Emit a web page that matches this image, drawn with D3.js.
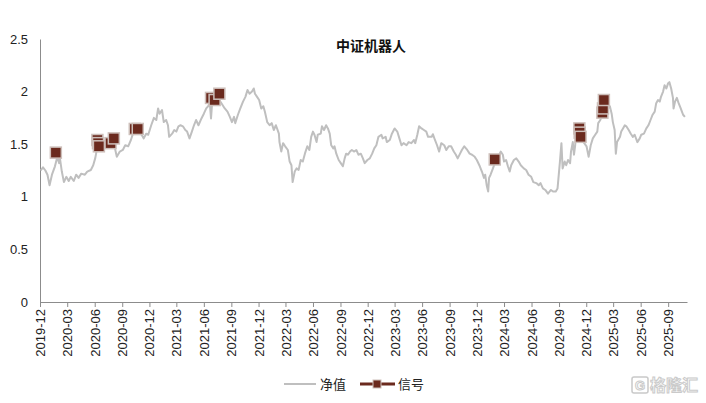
<!DOCTYPE html>
<html><head><meta charset="utf-8">
<script src="https://cdn.jsdelivr.net/npm/d3@7"></script>
<style>body{margin:0;background:#fff}svg{display:block}</style>
</head><body><svg id="c" width="706" height="403"></svg>
<script>
const chartTitle = "中证机器人";
const seriesNames = ["净值", "信号"];
const yTicks = [0, 0.5, 1, 1.5, 2, 2.5];
const xTickLabels = ["2019-12","2020-03","2020-06","2020-09","2020-12","2021-03","2021-06","2021-09","2021-12","2022-03","2022-06","2022-09","2022-12","2023-03","2023-06","2023-09","2023-12","2024-03","2024-06","2024-09","2024-12","2025-03","2025-06","2025-09"];

const navDates = ["2019-12-03","2019-12-11","2019-12-19","2019-12-26","2020-01-02","2020-01-10","2020-01-20","2020-01-28","2020-02-03","2020-02-05","2020-02-12","2020-02-19","2020-02-27","2020-03-06","2020-03-13","2020-03-23","2020-03-31","2020-04-08","2020-04-17","2020-04-29","2020-05-07","2020-05-19","2020-05-27","2020-06-03","2020-06-10","2020-06-18","2020-06-26","2020-07-06","2020-07-16","2020-07-24","2020-08-03","2020-08-14","2020-08-24","2020-09-03","2020-09-11","2020-09-21","2020-09-30","2020-10-07","2020-10-14","2020-10-23","2020-11-03","2020-11-12","2020-11-20","2020-11-27","2020-12-07","2020-12-16","2020-12-24","2020-12-30","2021-01-04","2021-01-12","2021-01-18","2021-01-26","2021-02-01","2021-02-05","2021-02-15","2021-02-22","2021-03-01","2021-03-08","2021-03-15","2021-03-23","2021-03-31","2021-04-06","2021-04-14","2021-04-22","2021-04-29","2021-05-06","2021-05-14","2021-05-24","2021-06-01","2021-06-09","2021-06-15","2021-06-21","2021-06-25","2021-06-29","2021-07-07","2021-07-16","2021-07-23","2021-08-02","2021-08-10","2021-08-19","2021-08-27","2021-09-03","2021-09-10","2021-09-14","2021-09-23","2021-10-01","2021-10-10","2021-10-18","2021-10-25","2021-11-01","2021-11-09","2021-11-15","2021-11-19","2021-11-26","2021-12-03","2021-12-10","2021-12-17","2021-12-22","2021-12-30","2022-01-07","2022-01-14","2022-01-21","2022-01-28","2022-02-07","2022-02-09","2022-02-15","2022-02-21","2022-02-28","2022-03-09","2022-03-15","2022-03-21","2022-03-25","2022-04-01","2022-04-07","2022-04-14","2022-04-21","2022-04-28","2022-05-05","2022-05-13","2022-05-20","2022-05-26","2022-06-01","2022-06-06","2022-06-13","2022-06-17","2022-06-27","2022-07-01","2022-07-08","2022-07-15","2022-07-21","2022-07-27","2022-08-01","2022-08-08","2022-08-12","2022-08-18","2022-08-26","2022-09-02","2022-09-09","2022-09-15","2022-09-20","2022-09-26","2022-10-03","2022-10-09","2022-10-17","2022-10-24","2022-10-31","2022-11-08","2022-11-15","2022-11-21","2022-11-30","2022-12-08","2022-12-16","2022-12-23","2022-12-30","2023-01-06","2023-01-16","2023-01-20","2023-01-30","2023-02-03","2023-02-13","2023-02-20","2023-03-01","2023-03-10","2023-03-17","2023-03-24","2023-03-31","2023-04-10","2023-04-17","2023-04-26","2023-05-05","2023-05-09","2023-05-16","2023-05-22","2023-05-30","2023-06-07","2023-06-15","2023-06-21","2023-07-03","2023-07-07","2023-07-14","2023-07-21","2023-07-28","2023-08-04","2023-08-14","2023-08-21","2023-08-29","2023-09-06","2023-09-15","2023-09-22","2023-09-28","2023-10-06","2023-10-12","2023-10-20","2023-10-30","2023-11-07","2023-11-15","2023-11-24","2023-12-01","2023-12-11","2023-12-18","2023-12-25","2023-12-29","2024-01-03","2024-01-08","2024-01-11","2024-01-16","2024-01-24","2024-01-30","2024-02-08","2024-02-19","2024-02-26","2024-03-01","2024-03-08","2024-03-14","2024-03-20","2024-03-25","2024-04-03","2024-04-11","2024-04-19","2024-04-26","2024-05-06","2024-05-14","2024-05-22","2024-05-31","2024-06-07","2024-06-17","2024-06-25","2024-07-01","2024-07-09","2024-07-17","2024-07-26","2024-08-05","2024-08-12","2024-08-21","2024-08-27","2024-09-04","2024-09-09","2024-09-13","2024-09-20","2024-09-25","2024-10-01","2024-10-08","2024-10-11","2024-10-17","2024-10-21","2024-10-25","2024-10-28","2024-11-05","2024-11-14","2024-11-22","2024-12-02","2024-12-09","2024-12-16","2024-12-23","2024-12-31","2025-01-07","2025-01-10","2025-01-17","2025-01-27","2025-02-03","2025-02-06","2025-02-12","2025-02-18","2025-02-24","2025-02-28","2025-03-06","2025-03-10","2025-03-14","2025-03-24","2025-03-28","2025-04-03","2025-04-09","2025-04-14","2025-04-22","2025-04-29","2025-05-06","2025-05-12","2025-05-21","2025-05-29","2025-06-03","2025-06-12","2025-06-20","2025-06-27","2025-07-04","2025-07-11","2025-07-18","2025-07-23","2025-07-29","2025-08-04","2025-08-08","2025-08-15","2025-08-20","2025-08-26","2025-09-01","2025-09-05","2025-09-11","2025-09-17","2025-09-19","2025-09-24","2025-09-30","2025-10-06","2025-10-13","2025-10-17","2025-10-21","2025-10-27"];

const navValues = [1.25,1.28,1.25,1.21,1.11,1.21,1.29,1.38,1.32,1.38,1.24,1.14,1.19,1.15,1.19,1.15,1.21,1.18,1.22,1.21,1.24,1.255,1.30,1.37,1.48,1.46,1.445,1.49,1.48,1.51,1.52,1.38,1.43,1.445,1.49,1.48,1.54,1.60,1.65,1.635,1.60,1.555,1.60,1.59,1.68,1.75,1.73,1.84,1.79,1.825,1.71,1.73,1.68,1.57,1.60,1.635,1.62,1.67,1.68,1.67,1.635,1.62,1.555,1.62,1.68,1.73,1.68,1.745,1.79,1.84,1.86,1.89,1.745,1.905,1.94,1.94,1.92,1.875,1.84,1.81,1.76,1.71,1.76,1.70,1.78,1.84,1.905,1.95,2.015,1.98,2.00,2.03,1.98,1.95,1.92,1.84,1.86,1.81,1.71,1.68,1.70,1.635,1.68,1.60,1.52,1.43,1.51,1.48,1.445,1.335,1.30,1.14,1.24,1.27,1.255,1.35,1.335,1.41,1.48,1.445,1.57,1.62,1.59,1.52,1.59,1.60,1.67,1.635,1.68,1.65,1.60,1.49,1.46,1.48,1.41,1.35,1.32,1.29,1.365,1.41,1.40,1.43,1.445,1.43,1.445,1.40,1.41,1.365,1.32,1.35,1.365,1.41,1.46,1.49,1.57,1.59,1.555,1.57,1.52,1.54,1.60,1.65,1.62,1.555,1.49,1.51,1.49,1.52,1.51,1.54,1.51,1.59,1.67,1.65,1.635,1.62,1.57,1.57,1.595,1.54,1.49,1.43,1.51,1.49,1.445,1.48,1.48,1.43,1.40,1.365,1.41,1.445,1.48,1.445,1.41,1.40,1.38,1.35,1.29,1.24,1.18,1.21,1.11,1.05,1.18,1.21,1.27,1.32,1.365,1.43,1.40,1.335,1.35,1.29,1.24,1.30,1.35,1.365,1.335,1.30,1.27,1.255,1.21,1.19,1.14,1.13,1.11,1.13,1.08,1.065,1.03,1.065,1.05,1.05,1.08,1.335,1.51,1.27,1.335,1.30,1.35,1.32,1.43,1.52,1.40,1.49,1.60,1.635,1.555,1.52,1.48,1.38,1.49,1.555,1.59,1.62,1.70,1.73,1.81,1.86,1.875,1.84,1.86,1.79,1.71,1.635,1.41,1.52,1.57,1.62,1.65,1.68,1.67,1.635,1.60,1.57,1.59,1.52,1.555,1.59,1.60,1.65,1.68,1.73,1.78,1.81,1.89,1.92,1.905,1.95,2.00,2.06,2.03,2.08,2.09,2.03,1.94,1.84,1.905,1.94,1.89,1.84,1.81,1.78,1.76];

const signalDates = ["2020-01-23","2020-06-10","2020-06-12","2020-06-15","2020-07-24","2020-08-04","2020-10-13","2020-10-23","2021-06-25","2021-07-07","2021-07-23","2024-01-30","2024-11-08","2024-11-09","2024-11-12","2025-01-24","2025-01-26","2025-01-29"];
const signalValues = [1.42,1.54,1.51,1.48,1.51,1.555,1.645,1.645,1.94,1.92,1.98,1.355,1.65,1.61,1.57,1.80,1.84,1.92];

const svg = d3.select("#c");
const parse = d3.timeParse("%Y-%m-%d");
const parseM = d3.timeParse("%Y-%m");
const FONT = "'Liberation Sans', Arial, 'Noto Sans CJK SC', sans-serif";
const CJK = "'Noto Sans CJK SC', sans-serif";
const gray = "#BFBFBF", brown = "#6B2A1E", axisC = "#8C8C8C";

const x = d3.scaleTime().domain([parse("2019-12-01"), parse("2025-11-03")]).range([40, 687]);
const y = d3.scaleLinear().domain([0, 2.5]).range([302, 39]);

// y axis
const gy = svg.append("g").attr("transform", "translate(40,0)")
  .call(d3.axisLeft(y).tickValues(yTicks).tickFormat(d3.format("")).tickSize(0).tickPadding(12));
gy.select(".domain").attr("stroke", axisC);
gy.selectAll("text").attr("font-family", FONT).attr("font-size", 13).attr("fill", "#222");

// x axis
const gx = svg.append("g").attr("transform", "translate(0,302)")
  .call(d3.axisBottom(x).tickValues(xTickLabels.map(parseM)).tickFormat(d3.timeFormat("%Y-%m")).tickSizeInner(5).tickSizeOuter(0));
gx.select(".domain").attr("stroke", axisC);
gx.selectAll(".tick line").attr("stroke", axisC);
gx.selectAll("text").attr("font-family", FONT).attr("font-size", 13).attr("fill", "#222")
  .attr("transform", "rotate(-90)").attr("text-anchor", "end")
  .attr("x", -7).attr("y", 0).attr("dy", "0.35em");

// line
const navData = navDates.map((d, i) => ({ date: parse(d), value: navValues[i] }));
svg.append("path").datum(navData)
  .attr("fill", "none").attr("stroke", gray).attr("stroke-width", 2).attr("stroke-linejoin", "round")
  .attr("d", d3.line().x(d => x(d.date)).y(d => y(d.value)));

// signals
const sigData = signalDates.map((d, i) => ({ date: parse(d), value: signalValues[i] }));
const ms = 11;
svg.append("g").selectAll("rect").data(sigData).join("rect")
  .attr("x", d => x(d.date) - ms / 2).attr("y", d => y(d.value) - ms / 2)
  .attr("width", ms).attr("height", ms)
  .attr("fill", brown).attr("stroke", "#CDBFBA").attr("stroke-width", 1.5);

// title
svg.append("text").attr("x", 371).attr("y", 51).attr("text-anchor", "middle")
  .attr("font-family", CJK).attr("font-size", 14).attr("font-weight", "bold").attr("fill", "#111")
  .text(chartTitle);

// legend
const lg = svg.append("g");
lg.append("line").attr("x1", 284).attr("x2", 316).attr("y1", 384).attr("y2", 384).attr("stroke", gray).attr("stroke-width", 2);
lg.append("text").attr("x", 320).attr("y", 389).attr("font-family", CJK).attr("font-size", 13).attr("fill", "#222").text(seriesNames[0]);
lg.append("line").attr("x1", 360).attr("x2", 395).attr("y1", 384).attr("y2", 384).attr("stroke", brown).attr("stroke-width", 3);
lg.append("rect").attr("x", 373).attr("y", 380).attr("width", 8).attr("height", 8).attr("fill", brown).attr("stroke", "#CDBFBA").attr("stroke-width", 1);
lg.append("text").attr("x", 398).attr("y", 389).attr("font-family", CJK).attr("font-size", 13).attr("fill", "#222").text(seriesNames[1]);

// watermark
const wm = svg.append("g").attr("opacity", 0.8);
wm.append("rect").attr("x", 632).attr("y", 377).attr("width", 16).attr("height", 16).attr("rx", 2)
  .attr("fill", "none").attr("stroke", "#BDBDBD").attr("stroke-width", 1.5);
wm.append("text").attr("x", 640).attr("y", 390).attr("text-anchor", "middle").attr("font-family", FONT)
  .attr("font-size", 13).attr("font-weight", "bold").attr("fill", "#fff").attr("stroke", "#BDBDBD").attr("stroke-width", 1).text("G");
wm.append("text").attr("x", 650).attr("y", 391).attr("font-family", CJK).attr("font-size", 16).attr("font-weight", "bold")
  .attr("fill", "#fff").attr("stroke", "#BDBDBD").attr("stroke-width", 1).text("格隆汇");
</script>
</body></html>
